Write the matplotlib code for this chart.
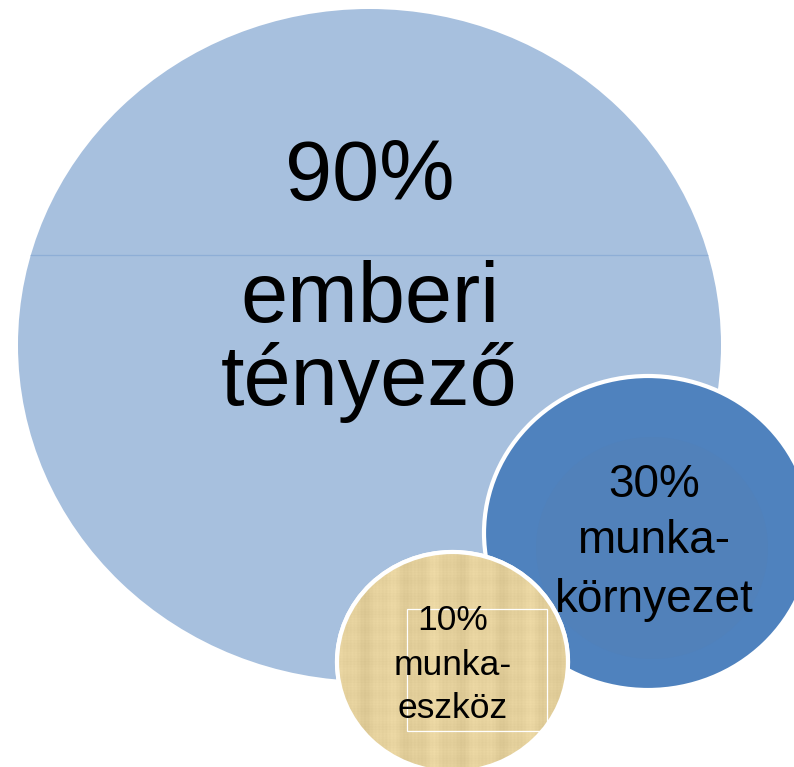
import numpy as np
import matplotlib
matplotlib.use("Agg")
import matplotlib.pyplot as plt
from matplotlib.patches import Ellipse, Rectangle

# Adatok
percents = [90, 30, 10]
labels = ["emberi\ntényező", "munka-\nkörnyezet", "munka-\neszköz"]

# Elrendezés (pixel koordináták: középpont x, y, vízszintes és függőleges sugár)
layout = [
    dict(cx=369.5, cy=345, rx=351.5, ry=336, color="#A7C0DE", edge=None,
         size=61, base=[200, 322, 405]),
    dict(cx=648, cy=533, rx=164, ry=157, color="#4F82BE", edge="white",
         size=33, base=[497, 553, 612]),
    dict(cx=452.5, cy=662, rx=115.5, ry=110, color="#E2CD98", edge="white",
         size=25.5, base=[630, 675, 718]),
]

plt.rcParams['font.family'] = ['Liberation Sans', 'DejaVu Sans']

fig = plt.figure(figsize=(7.94, 7.67), dpi=100)
ax = fig.add_axes([0, 0, 1, 1])
ax.set_xlim(0, 794)
ax.set_ylim(767, 0)
ax.axis('off')

for i, (p, lab, lo) in enumerate(zip(percents, labels, layout)):
    ell = Ellipse((lo["cx"], lo["cy"]), 2 * lo["rx"], 2 * lo["ry"],
                  facecolor=lo["color"],
                  edgecolor=lo["edge"] if lo["edge"] else "none",
                  linewidth=3 if lo["edge"] else 0, zorder=2 + i * 2)
    ax.add_patch(ell)

    if i == 0:
        # vékony vonal a nagy kör felső részén
        ln = ax.axhline(255, color="#8EAED6", linewidth=0.9, zorder=2.5)
        ln.set_clip_path(ell)
    if i == 1:
        # halvány belső kör
        inner = Ellipse((652, 548), 232, 222, facecolor="#5181BA",
                        edgecolor="none", zorder=2.6 + i * 2)
        ax.add_patch(inner)
        inner.set_clip_path(ell)
    if i == 2:
        # papírszerű textúra
        xs = np.arange(0, 240)
        ys = np.arange(0, 230)
        X, Y = np.meshgrid(xs, ys)
        tex = (0.25 * np.sin(X * 1.7) + 0.2 * np.sin(Y * 2.3)
               + 0.6 * np.sin(X * 0.13 + 1.0) + 0.4 * np.sin(X * 0.31 + 2.0)
               + 0.2 * np.sin(Y * 0.37))
        base = np.array([228, 208, 156]) / 255.0
        img = base[None, None, :] + 0.03 * tex[:, :, None]
        img = np.clip(img, 0, 1)
        im = ax.imshow(img, extent=(lo["cx"] - lo["rx"], lo["cx"] + lo["rx"],
                                    lo["cy"] + lo["ry"], lo["cy"] - lo["ry"]),
                       zorder=2.5 + i * 2, interpolation="bilinear")
        im.set_clip_path(ell)
        edge = Ellipse((lo["cx"], lo["cy"]), 2 * lo["rx"], 2 * lo["ry"],
                       facecolor="none", edgecolor="white", linewidth=3,
                       zorder=2.8 + i * 2)
        ax.add_patch(edge)
        box = Rectangle((407, 609), 140, 122, facecolor="none",
                        edgecolor="white", linewidth=0.9, zorder=2.7 + i * 2)
        ax.add_patch(box)
        box.set_clip_path(ell)

    lines = [f"{p}%"] + lab.split("\n")
    for txt, yb in zip(lines, lo["base"]):
        ax.text(lo["cx"] + (6 if i == 1 else 0), yb, txt, ha="center",
                va="baseline", fontsize=lo["size"], color="black",
                zorder=10 + i)

fig.savefig("out.png", dpi=100)
